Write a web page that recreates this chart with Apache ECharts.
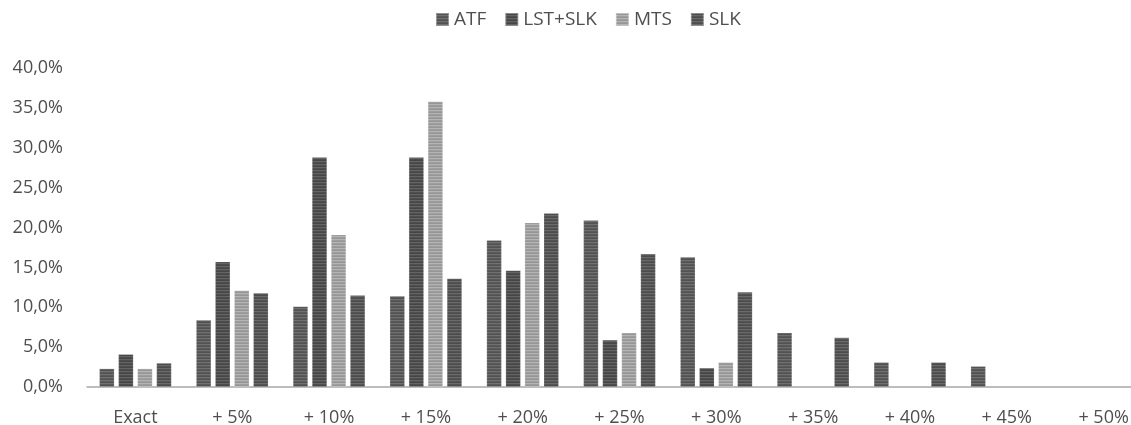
<!DOCTYPE html>
<html>
<head>
<meta charset="utf-8">
<style>
  html, body { margin: 0; padding: 0; background: #ffffff; }
  #chart { width: 1131px; height: 425px; }
</style>
<script src="https://cdn.jsdelivr.net/npm/echarts@6/dist/echarts.min.js"></script>
</head>
<body>
<div id="chart"></div>
<script>
// Tolerance buckets on the x axis
const categories = ['Exact', '+ 5%', '+ 10%', '+ 15%', '+ 20%', '+ 25%', '+ 30%', '+ 35%', '+ 40%', '+ 45%', '+ 50%'];

// Share of cases per bucket, in percent (null = no cases)
const atf    = [2.3, 8.4, 10.1, 11.4, 18.4, 20.9, 16.3, 6.8, 3.1, 2.6, null];
const lstSlk = [4.1, 15.7, 28.8, 28.8, 14.6, 5.9, 2.4, null, null, null, null];
const mts    = [2.3, 12.1, 19.1, 35.8, 20.6, 6.8, 3.1, null, null, null, null];
const slk    = [3.0, 11.8, 11.5, 13.6, 21.8, 16.7, 11.9, 6.2, 3.1, null, null];

const seriesNames = ['ATF', 'LST+SLK', 'MTS', 'SLK'];
const seriesData = [atf, lstSlk, mts, slk];
const baseColors = ['#5a5a5a', '#4e4e4e', '#9e9e9e', '#545454'];

// Horizontally striped fill for the bars
function stripes(hex) {
  const c = document.createElement('canvas');
  c.width = 8; c.height = 3;
  const ctx = c.getContext('2d');
  const v = parseInt(hex.slice(1, 3), 16);
  const shade = d => { const x = Math.max(0, Math.min(255, v + d)); return 'rgb(' + x + ',' + x + ',' + x + ')'; };
  ctx.fillStyle = shade(0);  ctx.fillRect(0, 0, 8, 1);
  ctx.fillStyle = shade(-8); ctx.fillRect(0, 1, 8, 1);
  ctx.fillStyle = shade(22); ctx.fillRect(0, 2, 8, 1);
  return { image: c, repeat: 'repeat' };
}

const fontFamily = '"Open Sans", sans-serif';
const textColor = '#4f4f4f';

const chart = echarts.init(document.getElementById('chart'), null, { renderer: 'canvas' });
chart.setOption({
  animation: false,
  backgroundColor: '#ffffff',
  legend: {
    data: seriesNames,
    left: 435,
    top: 10,
    padding: 0,
    itemWidth: 13,
    itemHeight: 13,
    itemGap: 18,
    icon: 'rect',
    textStyle: { color: textColor, fontSize: 19, fontFamily: fontFamily }
  },
  // the last category runs slightly past the right edge of the canvas
  grid: { left: 87, width: 1065, top: 68, bottom: 38, containLabel: false, outerBoundsMode: 'none' },
  xAxis: {
    type: 'category',
    data: categories,
    axisLine: { show: true, lineStyle: { color: '#a8a8a8', width: 1.5 } },
    axisTick: { show: false },
    axisLabel: { color: textColor, fontSize: 18, fontFamily: fontFamily, margin: 22, hideOverlap: false }
  },
  yAxis: {
    type: 'value',
    min: 0,
    max: 40,
    interval: 5,
    splitLine: { show: false },
    axisLine: { show: false },
    axisTick: { show: false },
    axisLabel: {
      color: textColor, fontSize: 18, fontFamily: fontFamily, margin: 24,
      formatter: v => v.toFixed(1).replace('.', ',') + '%'
    }
  },
  series: seriesNames.map((name, i) => ({
    name: name,
    type: 'bar',
    data: seriesData[i],
    barWidth: 15,
    barGap: '27%',
    itemStyle: { color: stripes(baseColors[i]), borderColor: 'rgba(255,255,255,0.35)', borderWidth: 0.5 }
  }))
});
</script>
</body>
</html>
